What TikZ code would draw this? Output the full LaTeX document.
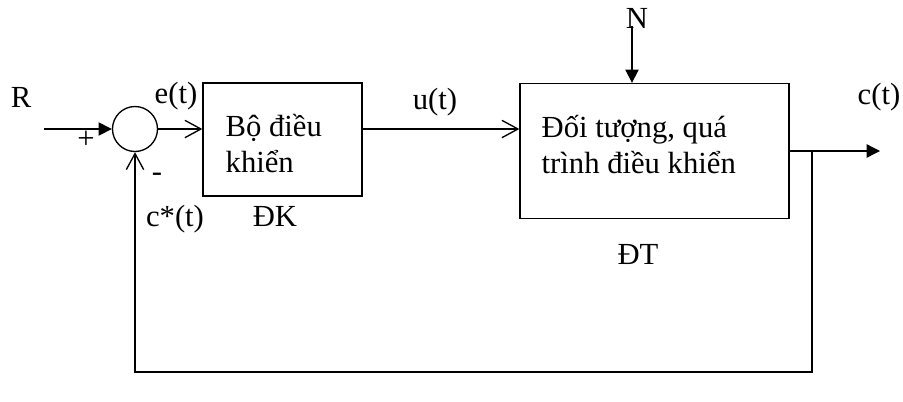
\documentclass[tikz,border=0pt]{standalone}
\usepackage{fontspec}
\setmainfont{Liberation Serif}
\usetikzlibrary{arrows.meta}

\tikzset{
  block/.style={draw,rectangle,line width=1pt},
  sumnode/.style={draw,circle,line width=1pt,minimum size=33.75pt,inner sep=0pt},
  lbl/.style={inner sep=0pt},
  barb/.style={-{Straight Barb[length=12pt,width=13pt,line width=1pt]}},
  solid tip/.style={-{Triangle[length=10pt,width=10pt]}}
}

\begin{document}
\begin{tikzpicture}[x=0.75pt,y=-0.75pt,line width=1pt,font=\fontsize{23}{27}\selectfont]
\useasboundingbox (0,0) rectangle (903,401);

% blocks and summing point
\node[sumnode] (sum) at (135,129) {};
\node[block,minimum width=119.25pt,minimum height=84.75pt] (dk) at (282.5,139.5) {};
\node[block,minimum width=201.75pt,minimum height=101.25pt] (dt) at (654.5,151) {};

% text inside the blocks
\node[lbl,anchor=west,align=left] (dktext) at (225,144) {Bộ điều\\khiển};
\node[lbl,anchor=west,align=left] (dttext) at (541,145) {Đối tượng, quá\\trình điều khiển};

% signal names
\node[lbl] (r) at (21,97) {R};
\node[lbl] (plus) at (86,140) {+};
\node[lbl] (minus) at (157,177) {-};
\node[lbl] (e) at (176,96) {e(t)};
\node[lbl] (cs) at (175,219) {c*(t)};
\node[lbl] (dklab) at (275,216) {ĐK};
\node[lbl] (u) at (435,102) {u(t)};
\node[lbl] (n) at (637,18) {N};
\node[lbl] (dtlab) at (638,254) {ĐT};
\node[lbl] (c) at (879,97) {c(t)};

\coordinate (in) at (44,129);
\coordinate (ntop) at (632,26);
\coordinate (out) at (880,151);
\coordinate (br) at (812,151);
\coordinate (bottom) at (812,372);

% forward path
\draw[solid tip] (in) -- (sum);
\draw[barb] (sum.east) -- (sum -| dk.west);
\draw[barb] (sum -| dk.east) -- (sum -| dt.west);
\draw[solid tip] (ntop) -- (ntop |- dt.north);
\draw[solid tip] (dt.east) -- (out);

% feedback
\draw[barb] (br) -- (bottom) -| (sum.south);
\end{tikzpicture}
\end{document}
